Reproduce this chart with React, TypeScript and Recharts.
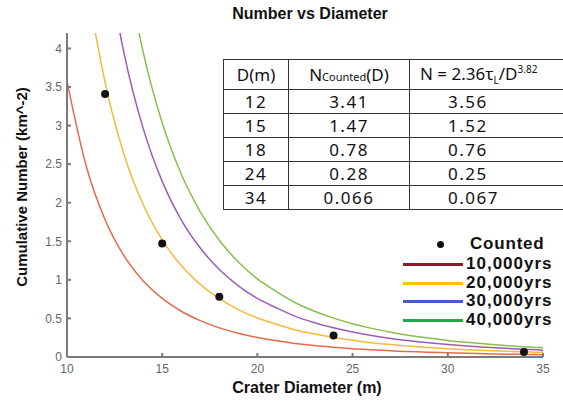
import React from 'react';
import { ComposedChart, Line, Scatter, XAxis, YAxis, ZAxis } from 'recharts';

const diameters = [10, 11, 12, 13, 14, 15, 16, 17, 18, 19, 20, 21, 22, 23, 24, 25, 26, 27, 28, 29, 30, 31, 32, 33, 34, 35];
const n10k = [3.572, 2.482, 1.78, 1.311, 0.988, 0.759, 0.593, 0.471, 0.378, 0.308, 0.253, 0.212, 0.176, 0.148, 0.126, 0.108, 0.093, 0.08, 0.07, 0.061, 0.054, 0.047, 0.042, 0.037, 0.033, 0.03];
const n20k = [7.144, 4.964, 3.56, 2.622, 1.976, 1.518, 1.186, 0.941, 0.756, 0.615, 0.506, 0.424, 0.351, 0.297, 0.252, 0.216, 0.186, 0.161, 0.14, 0.122, 0.107, 0.095, 0.084, 0.075, 0.067, 0.06];
const n30k = [10.716, 7.446, 5.34, 3.933, 2.964, 2.277, 1.779, 1.412, 1.135, 0.923, 0.759, 0.636, 0.527, 0.445, 0.378, 0.323, 0.278, 0.241, 0.21, 0.184, 0.161, 0.142, 0.126, 0.112, 0.1, 0.089];
const n40k = [14.288, 9.928, 7.12, 5.244, 3.952, 3.036, 2.372, 1.882, 1.513, 1.231, 1.012, 0.848, 0.703, 0.593, 0.504, 0.431, 0.371, 0.322, 0.28, 0.245, 0.215, 0.19, 0.168, 0.149, 0.133, 0.119];

const countedD = [12, 15, 18, 24, 34];
const countedN = ['3.41', '1.47', '0.78', '0.28', '0.066'];
const modelN = ['3.56', '1.52', '0.76', '0.25', '0.067'];

const xTicks = [10, 15, 20, 25, 30, 35];
const yTicks = [0, 0.5, 1, 1.5, 2, 2.5, 3, 3.5, 4];

const seriesNames = ['10,000yrs', '20,000yrs', '30,000yrs', '40,000yrs'];
const seriesKeys = ['t10', 't20', 't30', 't40'];
const plotColors = ['#e8694a', '#f5b93f', '#9b5cb8', '#86c04a'];
const legendColors = ['#8b1a2a', '#ffc000', '#4a58d0', '#22a847'];

const chartData = diameters.map((d, i) => ({
  d,
  t10: n10k[i],
  t20: n20k[i],
  t30: n30k[i],
  t40: n40k[i],
}));
const countedData = countedD.map((d, i) => ({ d, n: parseFloat(countedN[i]) }));

const FONT = '"Liberation Sans", Arial, sans-serif';
const TFONT = '"Noto Sans", "Open Sans", sans-serif';

const cellBorder = '1.5px solid #333';

export default function App() {
  return (
    <div style={{ position: 'absolute', left: 0, top: 0, width: 563, height: 402, background: '#fff', overflow: 'hidden' }}>
      <ComposedChart width={563} height={402} data={chartData} margin={{ top: 33, right: 20, bottom: 0, left: 0 }}>
        <XAxis
          dataKey="d"
          type="number"
          domain={[10, 35]}
          ticks={xTicks}
          allowDataOverflow
          height={45}
          stroke="#7a7a7a"
          strokeWidth={2}
          tickSize={-4}
          tickMargin={11}
          tick={{ fill: '#666', fontSize: 12, fontFamily: FONT }}
          label={{
            content: () => (
              <text x={307} y={393} textAnchor="middle" fontFamily={FONT} fontWeight="bold" fontSize={16} fill="#111">
                Crater Diameter (m)
              </text>
            ),
          }}
        />
        <YAxis
          type="number"
          domain={[0, 4.2]}
          ticks={yTicks}
          allowDataOverflow
          width={67}
          stroke="#7a7a7a"
          strokeWidth={2}
          tickSize={-4}
          tickMargin={9}
          tick={{ fill: '#666', fontSize: 12, fontFamily: FONT }}
          label={{
            content: () => (
              <text x={27} y={187} transform="rotate(-90 27 187)" textAnchor="middle" fontFamily={FONT} fontWeight="bold" fontSize={15} fill="#111">
                Cumulative Number (km^-2)
              </text>
            ),
          }}
        />
        <ZAxis range={[50, 50]} />
        {seriesKeys.map((k, i) => (
          <Line
            key={k}
            dataKey={k}
            name={seriesNames[i]}
            type="monotone"
            stroke={plotColors[i]}
            strokeWidth={1.5}
            dot={false}
            activeDot={false}
            isAnimationActive={false}
          />
        ))}
        <Scatter data={countedData} dataKey="n" name="Counted" fill="#111" isAnimationActive={false} />
      </ComposedChart>

      <div style={{ position: 'absolute', left: 0, width: 563, top: 5, textAlign: 'center', paddingLeft: 57, boxSizing: 'border-box', fontFamily: FONT, fontWeight: 'bold', fontSize: 16, color: '#111' }}>
        Number vs Diameter
      </div>

      <table
        style={{
          position: 'absolute',
          left: 223,
          top: 59,
          borderCollapse: 'collapse',
          tableLayout: 'fixed',
          width: 360,
          background: '#fff',
          fontFamily: TFONT,
          fontSize: 17,
          color: '#111',
        }}
      >
        <colgroup>
          <col style={{ width: 65 }} />
          <col style={{ width: 121 }} />
          <col style={{ width: 174 }} />
        </colgroup>
        <thead>
          <tr style={{ height: 30 }}>
            <th style={{ border: cellBorder, padding: 0, fontWeight: 'normal', textAlign: 'center' }}>D(m)</th>
            <th style={{ border: cellBorder, padding: 0, fontWeight: 'normal', textAlign: 'center' }}>
              N<span style={{ fontSize: 11 }}>Counted</span>(D)
            </th>
            <th style={{ border: cellBorder, padding: '0 0 0 10px', fontWeight: 'normal', textAlign: 'left', whiteSpace: 'nowrap' }}>
              N = 2.36τ<sub style={{ fontSize: 10 }}>L</sub>/D<sup style={{ fontSize: 10 }}>3.82</sup>
            </th>
          </tr>
        </thead>
        <tbody>
          {countedD.map((d, i) => (
            <tr key={d} style={{ height: 24 }}>
              <td style={{ border: cellBorder, padding: 0, textAlign: 'center', letterSpacing: 1.5, lineHeight: '20px' }}>{d}</td>
              <td style={{ border: cellBorder, padding: 0, textAlign: 'center', letterSpacing: 1.5, lineHeight: '20px' }}>{countedN[i]}</td>
              <td style={{ border: cellBorder, padding: '0 0 0 38px', textAlign: 'left', letterSpacing: 1.5, lineHeight: '20px' }}>{modelN[i]}</td>
            </tr>
          ))}
        </tbody>
      </table>

      <div style={{ position: 'absolute', left: 400, top: 234, fontFamily: FONT, fontWeight: 'bold', fontSize: 17, color: '#111' }}>
        <div style={{ position: 'relative', height: 19 }}>
          <div style={{ position: 'absolute', left: 37, top: 7, width: 7, height: 7, borderRadius: '50%', background: '#111' }} />
          <span style={{ position: 'absolute', left: 70, top: 0, lineHeight: '20px', letterSpacing: 0.8 }}>Counted</span>
        </div>
        {seriesNames.map((name, i) => (
          <div key={name} style={{ position: 'relative', height: 18.7 }}>
            <div style={{ position: 'absolute', left: 3, top: 10, width: 60, height: 3, background: legendColors[i] }} />
            <span style={{ position: 'absolute', left: 66, top: 1, lineHeight: '20px', letterSpacing: 1 }}>{name}</span>
          </div>
        ))}
      </div>
    </div>
  );
}
